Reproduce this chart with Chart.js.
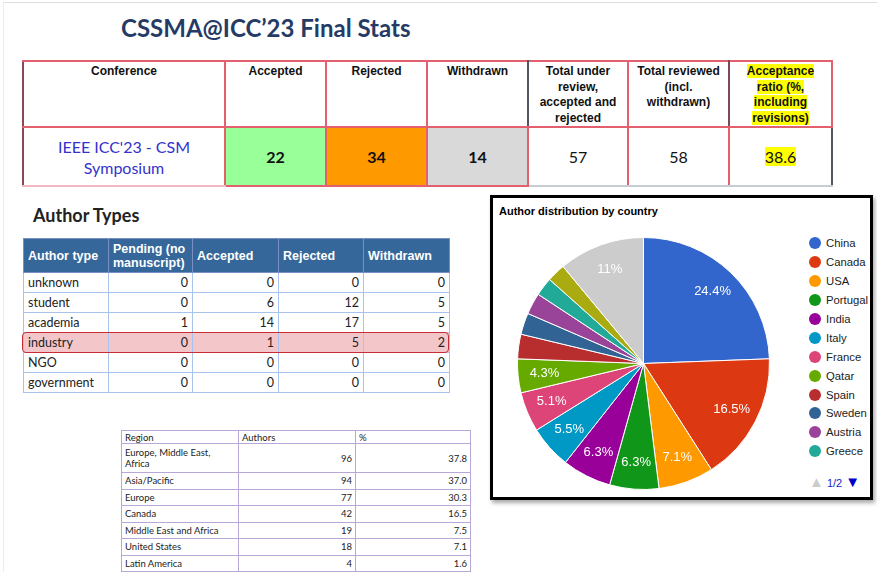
<!DOCTYPE html>
<html lang="en">

<head>
    <meta charset="UTF-8">
    <title>CSSMA@ICC'23 Final Stats</title>
    <script src="https://cdn.jsdelivr.net/npm/chart.js"></script>
    <style>
        body {
            margin: 0;
            width: 877px;
            height: 572px;
            overflow: hidden;
            background: #fff;
            font-family: "Liberation Sans", Arial, sans-serif;
            position: relative;
        }

        .frame {
            position: absolute;
            left: 3px;
            top: 2px;
            width: 900px;
            height: 600px;
            border-top: 1px solid #dedede;
            border-left: 1px solid #ececec;
        }

        .title {
            position: absolute;
            left: 121px;
            top: 13px;
            font-family: Lato, sans-serif;
            font-weight: bold;
            font-size: 24px;
            color: #253b66;
            white-space: nowrap;
        }

        /* conference table */
        #confTable {
            position: absolute;
            left: 22px;
            top: 60px;
            border-collapse: collapse;
            table-layout: fixed;
        }

        #confTable td {
            border: 2px solid #e3606f;
            text-align: center;
            padding: 0;
        }

        #confTable tr.head td {
            height: 62px;
            vertical-align: top;
            font-weight: bold;
            font-size: 12px;
            line-height: 15.5px;
            padding-top: 2px;
            color: #111;
        }

        #confTable tr.vals td {
            height: 57px;
            font-family: Lato, "Open Sans", sans-serif;
            font-size: 16px;
            color: #111;
        }

        .hl {
            background: #ffff00;
        }

        /* author types */
        .sub {
            position: absolute;
            left: 33px;
            top: 204px;
            font-family: Lato, sans-serif;
            font-weight: bold;
            font-size: 18px;
            color: #222;
        }

        #typeTable {
            position: absolute;
            left: 23px;
            top: 238px;
            border-collapse: collapse;
            table-layout: fixed;
        }

        #typeTable th {
            background: #35679a;
            color: #fff;
            font-size: 12.5px;
            text-align: left;
            font-weight: bold;
            height: 33px;
            padding: 0 4px;
            line-height: 14px;
            border: 1px solid #7a8fc4;
        }

        #typeTable td {
            font-family: Lato, "Open Sans", sans-serif;
            font-size: 12.5px;
            color: #222;
            height: 19px;
            padding: 0 4px;
            border: 1px solid #a9c3ef;
        }

        #typeTable td.n {
            text-align: right;
        }

        #typeTable tr.mark td {
            background: #f3c6ca;
        }

        .ring {
            position: absolute;
            left: 22px;
            top: 332px;
            width: 425px;
            height: 19px;
            border: 1.5px solid #c82c36;
            border-radius: 4px;
        }

        /* region table */
        #regionTable {
            position: absolute;
            left: 121px;
            top: 430px;
            border-collapse: collapse;
            table-layout: fixed;
        }

        #regionTable td {
            font-family: Lato, "Open Sans", sans-serif;
            font-size: 9.5px;
            color: #222;
            border: 1px solid #b8a8d8;
            padding: 0 3px;
            height: 15.5px;
            line-height: 11px;
        }

        #regionTable td.n {
            text-align: right;
        }

        /* pie box */
        .box {
            position: absolute;
            left: 490px;
            top: 195px;
            width: 377px;
            height: 299px;
            border: 3px solid #000;
            box-shadow: 2px 3px 4px #aaa;
            background: #fff;
        }

        .pieTitle {
            position: absolute;
            left: 6px;
            top: 7px;
            font-weight: bold;
            font-size: 11px;
            color: #000;
        }

        #pieWrap {
            position: absolute;
            left: 0;
            top: 0;
            width: 290px;
            height: 299px;
        }

        #legend {
            position: absolute;
            left: 316px;
            top: 36px;
        }

        .item {
            height: 18.9px;
            font-size: 11.3px;
            color: #222;
            white-space: nowrap;
            display: flex;
            align-items: center;
        }

        .dot {
            width: 12px;
            height: 12px;
            border-radius: 50%;
            margin-right: 5px;
        }

        .pager {
            position: absolute;
            left: 316px;
            top: 275px;
            font-size: 11px;
            color: #2222cc;
            white-space: nowrap;
        }

        .pager span {
            font-size: 15px;
        }
    </style>
</head>

<body>
    <div class="frame"></div>
    <div class="title">CSSMA@ICC’23 Final Stats</div>

    <table id="confTable"></table>

    <div class="sub">Author Types</div>
    <table id="typeTable"></table>
    <div class="ring"></div>

    <table id="regionTable"></table>

    <div class="box">
        <div class="pieTitle">Author distribution by country</div>
        <div id="pieWrap"><canvas id="pieChart"></canvas></div>
        <div id="legend"></div>
        <div class="pager"><span style="color:#cccccc">&#9650;</span> 1/2 <span style="color:#0000cc">&#9660;</span></div>
    </div>

    <script>
        // conference summary
        let confHeaders = ['Conference', 'Accepted', 'Rejected', 'Withdrawn',
            'Total under review, accepted and rejected', 'Total reviewed (incl. withdrawn)',
            'Acceptance ratio (%, including revisions)'];
        let confValues = ['IEEE ICC\'23 - CSM Symposium', '22', '34', '14', '57', '58', '38.6'];

        // author types
        let typeHeaders = ['Author type', 'Pending (no manuscript)', 'Accepted', 'Rejected', 'Withdrawn'];
        let authorTypes = ['unknown', 'student', 'academia', 'industry', 'NGO', 'government'];
        let pending = [0, 0, 1, 0, 0, 0];
        let accepted = [0, 6, 14, 1, 0, 0];
        let rejected = [0, 12, 17, 5, 0, 0];
        let withdrawn = [0, 5, 5, 2, 0, 0];

        // regions
        let regions = ['Europe, Middle East, Africa', 'Asia/Pacific', 'Europe', 'Canada',
            'Middle East and Africa', 'United States', 'Latin America'];
        let regionAuthors = [96, 94, 77, 42, 19, 18, 4];
        let regionPct = ['37.8', '37.0', '30.3', '16.5', '7.5', '7.1', '1.6'];

        // pie: authors per country
        let countries = ['China', 'Canada', 'USA', 'Portugal', 'India', 'Italy', 'France', 'Qatar',
            'Spain', 'Sweden', 'Austria', 'Greece', 'Germany', 'Other'];
        let countryAuthors = [62, 42, 18, 16, 16, 14, 13, 11, 8, 7, 7, 6, 6, 28];

        let sliceColors = ['#3366cc', '#dc3912', '#ff9900', '#109618', '#990099', '#0099c6', '#dd4477',
            '#66aa00', '#b82e2e', '#316395', '#994499', '#22aa99', '#aaaa11', '#cccccc'];

        // --- build tables ---
        let confWidths = [202, 101, 101, 101, 100, 101, 103];
        let dark = '#505560';
        let html = '<tr class="head">';
        confHeaders.forEach((h, i) => {
            let txt = i == 6 ? '<span class="hl">Acceptance</span><br><span class="hl">ratio (%,</span><br><span class="hl">including</span><br><span class="hl">revisions)</span>' : h;
            if (i == 4) txt = 'Total under<br>review,<br>accepted and<br>rejected';
            if (i == 5) txt = 'Total reviewed<br>(incl.<br>withdrawn)';
            let style = 'width:' + (confWidths[i] - 2) + 'px;';
            if (i == 0) style += 'border-left-color:#8c4656;';
            if (i == 3) style += 'border-right-color:' + dark + ';border-left-color:' + dark + ';';
            if (i == 5) style += 'border-right-color:#7a4a58;';
            html += '<td style="' + style + '">' + txt + '</td>';
        });
        html += '</tr><tr class="vals">';
        let bgs = ['', '#99ff99', '#ff9900', '#d9d9d9', '', '', ''];
        confValues.forEach((v, i) => {
            let style = '';
            if (bgs[i]) style += 'background:' + bgs[i] + ';font-weight:bold;';
            if (i == 0) style += 'color:#3333cc;line-height:21px;border-left-color:#8c4656;border-bottom-color:#f0b8c0;';
            if (i >= 1 && i <= 3) style += 'border-left-color:' + dark + ';';
            if (i >= 4) style += 'border-bottom-color:#c8ccd4;';
            if (i == 5 || i == 6) style += 'border-left-color:' + dark + ';';
            if (i == 6) style += 'border-right-color:' + dark + ';';
            let txt = i == 0 ? 'IEEE ICC\'23 - CSM<br>Symposium' : (i == 6 ? '<span class="hl">' + v + '</span>' : v);
            html += '<td style="' + style + '">' + txt + '</td>';
        });
        html += '</tr>';
        document.getElementById('confTable').innerHTML = html;

        let typeWidths = [85, 84, 86, 85, 86];
        html = '<tr>';
        typeHeaders.forEach((h, i) => {
            html += '<th style="width:' + (typeWidths[i] - 9) + 'px">' + h + '</th>';
        });
        html += '</tr>';
        authorTypes.forEach((t, r) => {
            html += '<tr' + (t == 'industry' ? ' class="mark"' : '') + '><td>' + t + '</td>';
            [pending, accepted, rejected, withdrawn].forEach(col => {
                html += '<td class="n">' + col[r] + '</td>';
            });
            html += '</tr>';
        });
        document.getElementById('typeTable').innerHTML = html;

        let regionWidths = [117, 117, 115];
        html = '<tr>';
        ['Region', 'Authors', '%'].forEach((h, i) => {
            html += '<td style="width:' + (regionWidths[i] - 7) + 'px;height:12px">' + h + '</td>';
        });
        html += '</tr>';
        regions.forEach((g, r) => {
            let h = r == 0 ? 'height:28px;' : '';
            html += '<tr><td style="' + h + '">' + (r == 0 ? 'Europe, Middle East,<br>Africa' : g) + '</td>' +
                '<td class="n">' + regionAuthors[r] + '</td><td class="n">' + regionPct[r] + '</td></tr>';
        });
        document.getElementById('regionTable').innerHTML = html;

        // --- pie chart ---
        let total = countryAuthors.reduce((a, b) => a + b, 0);

        const sliceLabels = {
            id: 'sliceLabels',
            afterDatasetsDraw(chart) {
                let ctx = chart.ctx;
                let meta = chart.getDatasetMeta(0);
                ctx.save();
                ctx.font = '13px "Liberation Sans", Arial, sans-serif';
                ctx.fillStyle = '#ffffff';
                ctx.textAlign = 'center';
                ctx.textBaseline = 'middle';
                meta.data.forEach((arc, i) => {
                    let pct = countryAuthors[i] / total * 100;
                    if (pct < 4) return;
                    let mid = (arc.startAngle + arc.endAngle) / 2;
                    let r = arc.outerRadius * 0.79;
                    let txt = (Math.round(pct * 10) / 10).toString() + '%';
                    ctx.fillText(txt, arc.x + Math.cos(mid) * r, arc.y + Math.sin(mid) * r);
                });
                ctx.restore();
            }
        };

        let pieChart = new Chart(document.getElementById('pieChart'), {
            type: 'pie',
            data: {
                labels: countries,
                datasets: [{
                    data: countryAuthors,
                    backgroundColor: sliceColors,
                    borderColor: '#ffffff',
                    borderWidth: 1
                }]
            },
            options: {
                responsive: true,
                maintainAspectRatio: false,
                animation: false,
                layout: { padding: { left: 24, top: 39, bottom: 7, right: 13 } },
                plugins: {
                    legend: { display: false },
                    tooltip: { enabled: false }
                }
            },
            plugins: [sliceLabels]
        });

        // legend shows first page (12 entries) like the original
        let legend = document.getElementById('legend');
        countries.slice(0, 12).forEach((c, i) => {
            let row = document.createElement('div');
            row.className = 'item';
            row.innerHTML = '<span class="dot" style="background:' + sliceColors[i] + '"></span>' + c;
            legend.appendChild(row);
        });
    </script>
</body>

</html>
